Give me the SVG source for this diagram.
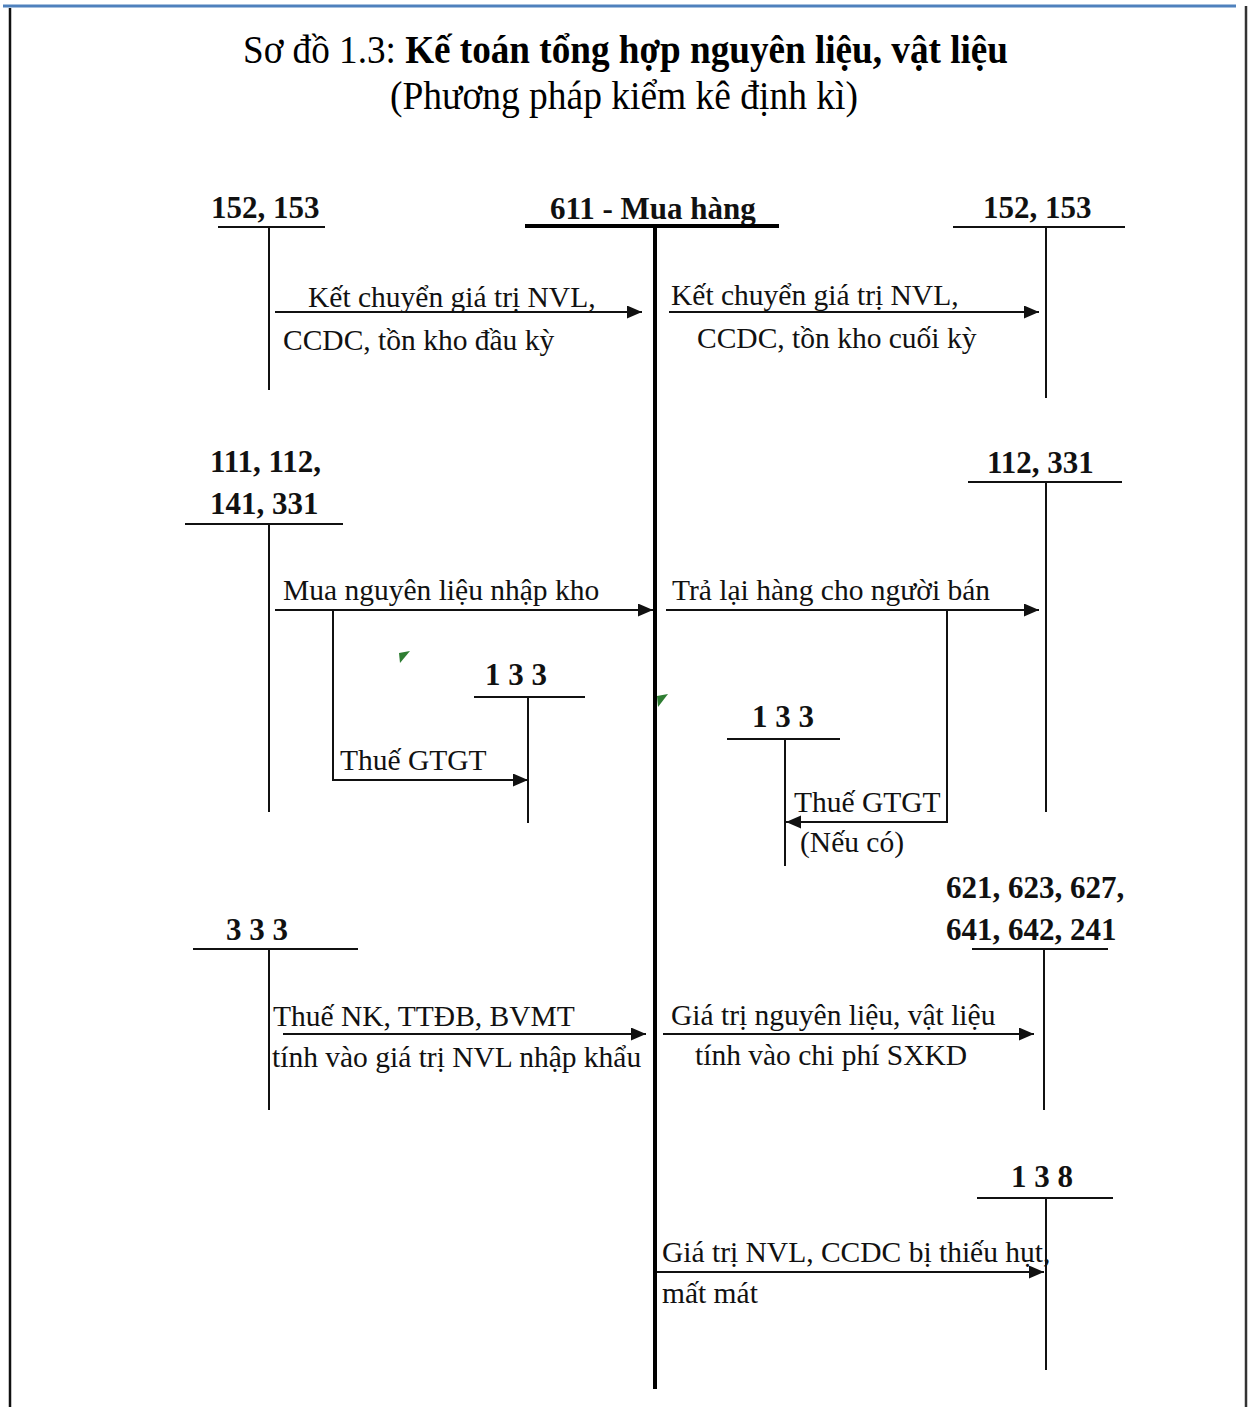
<svg xmlns="http://www.w3.org/2000/svg" width="1253" height="1407" viewBox="0 0 1253 1407">
<style>
  .t { font-family: "Liberation Serif", "Times New Roman", serif; font-size: 29.5px; fill: #111; }
  .b { font-family: "Liberation Serif", "Times New Roman", serif; font-size: 31px; font-weight: bold; fill: #111; }
  .title { font-family: "Liberation Serif", "Times New Roman", serif; font-size: 39px; fill: #000; }
  .ln { stroke: #111; stroke-width: 2; fill: none; }
  .thick { stroke: #000; stroke-width: 4; fill: none; }
  .arr { stroke: #111; stroke-width: 2; fill: none; marker-end: url(#ah); }
  .mark { fill: #2e7d32; }
</style>
<defs>
  <marker id="ah" markerUnits="userSpaceOnUse" markerWidth="16" markerHeight="14" refX="15" refY="6.5" orient="auto">
    <path d="M0,0 L15,6.5 L0,13 z" fill="#111"/>
  </marker>
</defs>
<rect width="1253" height="1407" fill="#fff"/>

<g id="frame">
  <line x1="3" y1="6" x2="1236" y2="6" stroke="#4f81bd" stroke-width="3"/>
  <line x1="10" y1="8" x2="10" y2="1407" stroke="#111" stroke-width="2.5"/>
  <line x1="1246" y1="6" x2="1246" y2="1407" stroke="#333" stroke-width="2.5"/>
</g>

<g id="title">
  <text class="title" x="243" y="63" textLength="765" lengthAdjust="spacingAndGlyphs">Sơ đồ 1.3: <tspan font-weight="bold">Kế toán tổng hợp nguyên liệu, vật liệu</tspan></text>
  <text class="title" x="390" y="109" textLength="468" lengthAdjust="spacingAndGlyphs">(Phương pháp kiểm kê định kì)</text>
</g>

<g id="acc611">
  <text class="b" x="550" y="219">611 - Mua hàng</text>
  <line class="thick" x1="525" y1="226" x2="779" y2="226"/>
  <line class="thick" x1="655" y1="226" x2="655" y2="1389"/>
</g>

<g id="acc152L">
  <text class="b" x="211" y="218">152, 153</text>
  <line class="ln" x1="218" y1="227" x2="325" y2="227"/>
  <line class="ln" x1="269" y1="227" x2="269" y2="390"/>
</g>

<g id="acc152R">
  <text class="b" x="983" y="218">152, 153</text>
  <line class="ln" x1="953" y1="227" x2="1125" y2="227"/>
  <line class="ln" x1="1046" y1="227" x2="1046" y2="398"/>
</g>

<g id="acc111">
  <text class="b" x="210" y="472">111, 112,</text>
  <text class="b" x="210" y="514">141, 331</text>
  <line class="ln" x1="185" y1="524" x2="343" y2="524"/>
  <line class="ln" x1="269" y1="524" x2="269" y2="812"/>
</g>

<g id="acc133L">
  <text class="b" x="485" y="685">1 3 3</text>
  <line class="ln" x1="474" y1="697" x2="585" y2="697"/>
  <line class="ln" x1="528" y1="697" x2="528" y2="823"/>
</g>

<g id="acc112">
  <text class="b" x="987" y="473">112, 331</text>
  <line class="ln" x1="968" y1="482" x2="1122" y2="482"/>
  <line class="ln" x1="1046" y1="482" x2="1046" y2="812"/>
</g>

<g id="acc133R">
  <text class="b" x="752" y="727">1 3 3</text>
  <line class="ln" x1="727" y1="739" x2="840" y2="739"/>
  <line class="ln" x1="785" y1="739" x2="785" y2="866"/>
</g>

<g id="acc333">
  <text class="b" x="226" y="940">3 3 3</text>
  <line class="ln" x1="193" y1="949" x2="358" y2="949"/>
  <line class="ln" x1="269" y1="949" x2="269" y2="1110"/>
</g>

<g id="acc621">
  <text class="b" x="946" y="898">621, 623, 627,</text>
  <text class="b" x="946" y="940">641, 642, 241</text>
  <line class="ln" x1="972" y1="949" x2="1108" y2="949"/>
  <line class="ln" x1="1044" y1="949" x2="1044" y2="1110"/>
</g>

<g id="acc138">
  <text class="b" x="1011" y="1187">1 3 8</text>
  <line class="ln" x1="977" y1="1198" x2="1113" y2="1198"/>
  <line class="ln" x1="1046" y1="1198" x2="1046" y2="1370"/>
</g>

<g id="connectors">
  <line class="arr" x1="275" y1="312" x2="642" y2="312"/>
  <line class="arr" x1="669" y1="312" x2="1039" y2="312"/>
  <line class="arr" x1="275" y1="610" x2="653" y2="610"/>
  <polyline class="arr" points="333,610 333,780 528,780"/>
  <line class="arr" x1="666" y1="610" x2="1039" y2="610"/>
  <polyline class="arr" points="947,610 947,822 786,822"/>
  <line class="arr" x1="283" y1="1034" x2="646" y2="1034"/>
  <line class="arr" x1="663" y1="1034" x2="1034" y2="1034"/>
  <line class="arr" x1="657" y1="1272" x2="1044" y2="1272"/>
</g>

<g id="labels">
  <text class="t" x="308" y="307">Kết chuyển giá trị NVL,</text>
  <text class="t" x="283" y="350">CCDC, tồn kho đầu kỳ</text>
  <text class="t" x="671" y="305">Kết chuyển giá trị NVL,</text>
  <text class="t" x="697" y="348">CCDC, tồn kho cuối kỳ</text>
  <text class="t" x="283" y="600">Mua nguyên liệu nhập kho</text>
  <text class="t" x="340" y="770">Thuế GTGT</text>
  <text class="t" x="672" y="600">Trả lại hàng cho người bán</text>
  <text class="t" x="794" y="812">Thuế GTGT</text>
  <text class="t" x="800" y="852">(Nếu có)</text>
  <text class="t" x="273" y="1026">Thuế NK, TTĐB, BVMT</text>
  <text class="t" x="272" y="1067">tính vào giá trị NVL nhập khẩu</text>
  <text class="t" x="671" y="1025">Giá trị nguyên liệu, vật liệu</text>
  <text class="t" x="695" y="1065">tính vào chi phí SXKD</text>
  <text class="t" x="662" y="1262">Giá trị NVL, CCDC bị thiếu hụt,</text>
  <text class="t" x="662" y="1303">mất mát</text>
</g>

<g id="marks">
  <polygon class="mark" points="399,653 410,651 400,663"/>
  <polygon class="mark" points="657,696 668,694 658,707"/>
</g>
</svg>
